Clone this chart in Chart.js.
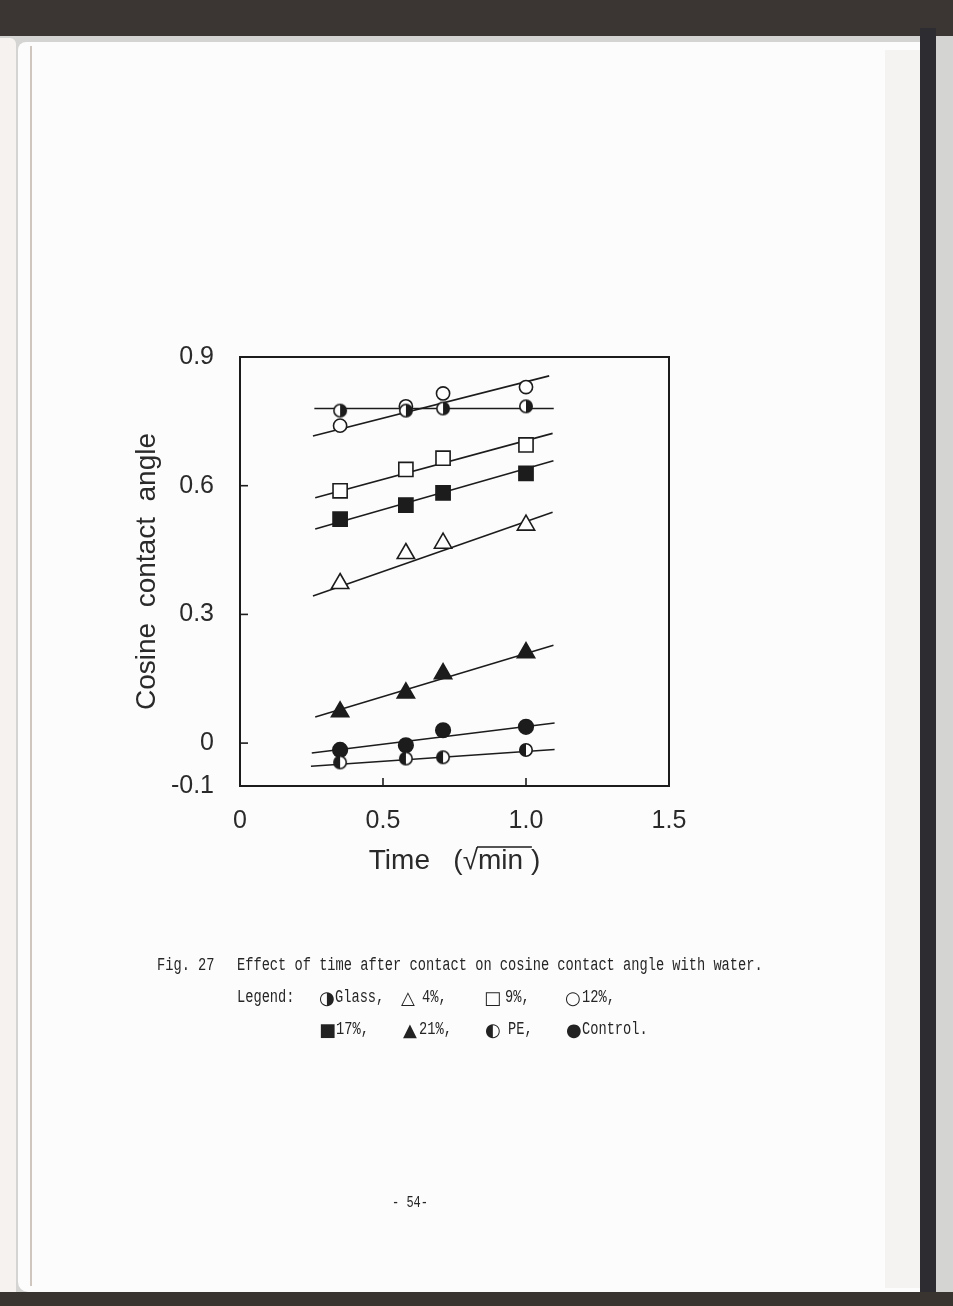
<!DOCTYPE html>
<html>
<head>
<meta charset="utf-8">
<script src="https://cdn.jsdelivr.net/npm/chart.js@4.4.0/dist/chart.umd.min.js"></script>
<style>
  html, body { margin: 0; padding: 0; }
  body { width: 953px; height: 1306px; position: relative; overflow: hidden; background: #d4d4d2; }
  .b { position: absolute; }
  #top { left: 0; top: 0; width: 953px; height: 36px; background: #3b3633; }
  #sliver { left: 0; top: 38px; width: 16px; height: 1254px; background: #f6f2ef; border-radius: 0 6px 0 0; }
  #page { left: 18px; top: 42px; width: 904px; height: 1250px; background: #fdfcfc; border-radius: 8px 0 0 10px; }
  #gutter { left: 30px; top: 46px; width: 2px; height: 1240px; background: #cfc6bf; }
  #edge { left: 885px; top: 50px; width: 36px; height: 1238px; background: #f5f3f1; }
  #cover { left: 920px; top: 28px; width: 16px; height: 1266px; background: #2d2c31; }
  #bottom { left: 0; top: 1292px; width: 953px; height: 14px; background: #3a3431; }
  #c { position: absolute; left: 0; top: 0; }
  .cap { position: absolute; font-family: "Liberation Mono", monospace; font-size: 13.7px; color: #262626;
         white-space: pre; line-height: 16px; transform: scaleY(1.35); transform-origin: 0 50%; }
  .sym { position: absolute; font-family: "DejaVu Sans", sans-serif; font-size: 18px; color: #222; line-height: 16px; }
</style>
</head>
<body>
<div class="b" id="top"></div>
<div class="b" id="sliver"></div>
<div class="b" id="page"></div>
<div class="b" id="gutter"></div>
<div class="b" id="edge"></div>
<div class="b" id="cover"></div>
<div class="b" id="bottom"></div>

<canvas id="c" width="953" height="1306"></canvas>

<div class="cap" style="left:157px;top:958px">Fig. 27</div>
<div class="cap" style="left:237px;top:958px">Effect of time after contact on cosine contact angle with water.</div>

<div class="cap" style="left:237px;top:990px">Legend:</div>
<div class="sym" style="left:319px;top:990px">◑</div><div class="cap" style="left:335px;top:990px">Glass,</div>
<div class="sym" style="left:401px;top:990px">△</div><div class="cap" style="left:422px;top:990px">4%,</div>
<div class="sym" style="left:484px;top:990px">□</div><div class="cap" style="left:505px;top:990px">9%,</div>
<div class="sym" style="left:565px;top:990px">○</div><div class="cap" style="left:582px;top:990px">12%,</div>

<div class="sym" style="left:319px;top:1022px">■</div><div class="cap" style="left:336px;top:1022px">17%,</div>
<div class="sym" style="left:403px;top:1022px">▲</div><div class="cap" style="left:419px;top:1022px">21%,</div>
<div class="sym" style="left:485px;top:1022px">◐</div><div class="cap" style="left:508px;top:1022px">PE,</div>
<div class="sym" style="left:566px;top:1022px">●</div><div class="cap" style="left:582px;top:1022px">Control.</div>

<div class="cap" style="left:392px;top:1195px;font-size:12px">- 54-</div>

<script>
// time in sqrt(min)
const times = [0.35, 0.58, 0.71, 1.0];

// cosine contact angle per sample
const glass   = [0.775, 0.775, 0.78, 0.785];
const pct4    = [0.372, 0.442, 0.466, 0.508];
const pct9    = [0.588, 0.638, 0.664, 0.695];
const pct12   = [0.74, 0.785, 0.815, 0.83];
const pct17   = [0.522, 0.555, 0.583, 0.629];
const pct21   = [0.073, 0.117, 0.162, 0.211];
const pe      = [-0.045, -0.036, -0.033, -0.016];
const control = [-0.016, -0.005, 0.03, 0.038];

// fitted lines as drawn in the figure (Glass, 4, 9, 12, 17, 21, PE, Control)
const fitX0 = [0.26, 0.255, 0.263, 0.255, 0.263, 0.263, 0.248, 0.251];
const fitY0 = [0.78, 0.343, 0.572, 0.716, 0.499, 0.061, -0.054, -0.023];
const fitX1 = [1.097, 1.093, 1.093, 1.081, 1.096, 1.096, 1.10, 1.10];
const fitY1 = [0.78, 0.538, 0.722, 0.856, 0.658, 0.228, -0.015, 0.047];

const xTicks = [0, 0.5, 1.0, 1.5];
const yTicks = [-0.1, 0, 0.3, 0.6, 0.9];

const INK = '#1c1c1c';

function halfDot(side) {
  const c = document.createElement('canvas');
  c.width = 16; c.height = 16;
  const g = c.getContext('2d');
  g.beginPath(); g.arc(8, 8, 6.2, 0, Math.PI * 2); g.fillStyle = '#fff'; g.fill();
  g.beginPath();
  if (side === 'right') g.arc(8, 8, 6.2, -Math.PI / 2, Math.PI / 2);
  else g.arc(8, 8, 6.2, Math.PI / 2, Math.PI * 1.5);
  g.closePath(); g.fillStyle = INK; g.fill();
  g.beginPath(); g.arc(8, 8, 6.2, 0, Math.PI * 2);
  g.lineWidth = 1.6; g.strokeStyle = INK; g.stroke();
  return c;
}

const series = [
  { name: 'Glass',   vals: glass,   style: halfDot('right'), fill: '#fff', r: 8 },
  { name: '4%',      vals: pct4,    style: 'triangle', fill: '#fff', r: 10 },
  { name: '9%',      vals: pct9,    style: 'rect',     fill: '#fff', r: 10 },
  { name: '12%',     vals: pct12,   style: 'circle',   fill: '#fff', r: 6.6 },
  { name: '17%',     vals: pct17,   style: 'rect',     fill: INK,    r: 10 },
  { name: '21%',     vals: pct21,   style: 'triangle', fill: INK,    r: 10 },
  { name: 'PE',      vals: pe,      style: halfDot('left'), fill: '#fff', r: 8 },
  { name: 'Control', vals: control, style: 'circle',   fill: INK,    r: 7.3 }
];

const datasets = [];
series.forEach((s, i) => {
  datasets.push({
    label: s.name + ' fit',
    data: [{ x: fitX0[i], y: fitY0[i] }, { x: fitX1[i], y: fitY1[i] }],
    showLine: true,
    borderColor: INK,
    borderWidth: 1.6,
    pointRadius: 0,
    order: 1
  });
  datasets.push({
    label: s.name,
    data: times.map((t, k) => ({ x: t, y: s.vals[k] })),
    showLine: false,
    pointStyle: s.style,
    pointRadius: s.r,
    pointBackgroundColor: s.fill,
    pointBorderColor: INK,
    pointBorderWidth: 1.6,
    order: 0
  });
});

const fmt = v => (v === 0 ? '0' : v.toFixed(1));
const tickFont = { family: '"Liberation Sans", sans-serif', size: 25 };
const titleFont = { family: '"Liberation Sans", sans-serif', size: 28 };
const xTitle = 'Time   (\u221Amin )';

const frame = {
  id: 'frame',
  afterDraw(chart) {
    const { ctx, chartArea: a } = chart;
    const xs = chart.scales.x, ys = chart.scales.y;
    ctx.save();
    ctx.strokeStyle = INK;
    ctx.lineWidth = 2;
    ctx.strokeRect(a.left, a.top, a.right - a.left, a.bottom - a.top);
    ctx.lineWidth = 1.6;
    xs.ticks.forEach(t => {
      const px = xs.getPixelForValue(t.value);
      if (px <= a.left + 2 || px >= a.right - 2) return;
      ctx.beginPath(); ctx.moveTo(px, a.bottom); ctx.lineTo(px, a.bottom - 8); ctx.stroke();
    });
    ys.ticks.forEach(t => {
      const py = ys.getPixelForValue(t.value);
      if (py <= a.top + 2 || py >= a.bottom - 2) return;
      ctx.beginPath(); ctx.moveTo(a.left, py); ctx.lineTo(a.left + 8, py); ctx.stroke();
    });
    // vinculum over "min" in the x title
    ctx.font = titleFont.size + 'px ' + titleFont.family;
    const total = ctx.measureText(xTitle).width;
    const cx = (a.left + a.right) / 2;
    const start = cx - total / 2 + ctx.measureText('Time   (\u221A').width - 1;
    const end = start + ctx.measureText('min ').width + 2;
    const ty = a.bottom + 61;
    ctx.lineWidth = 1.6;
    ctx.beginPath(); ctx.moveTo(start, ty); ctx.lineTo(end, ty); ctx.stroke();
    ctx.restore();
  }
};

new Chart(document.getElementById('c'), {
  type: 'scatter',
  data: { datasets },
  options: {
    responsive: false,
    animation: false,
    devicePixelRatio: 1,
    layout: { padding: { left: 0, top: 357, right: 284, bottom: 420 } },
    plugins: { legend: { display: false }, tooltip: { enabled: false } },
    scales: {
      x: {
        type: 'linear', min: 0, max: 1.5,
        afterBuildTicks: s => { s.ticks = xTicks.map(v => ({ value: v })); },
        afterFit: s => { s.height = 100; },
        grid: { display: false, drawTicks: false },
        border: { display: false },
        ticks: { font: tickFont, color: '#2a2a2a', padding: 20, maxRotation: 0, autoSkip: false, callback: fmt },
        title: { display: true, text: xTitle, font: titleFont, color: '#2a2a2a', padding: { top: 0, bottom: 8 } }
      },
      y: {
        type: 'linear', min: -0.1, max: 0.9,
        afterBuildTicks: s => { s.ticks = yTicks.map(v => ({ value: v })); },
        afterFit: s => { s.width = 240; },
        grid: { display: false, drawTicks: false },
        border: { display: false },
        ticks: { font: tickFont, color: '#2a2a2a', padding: 26, autoSkip: false, callback: fmt },
        title: { display: true, text: 'Cosine  contact  angle', font: titleFont, color: '#2a2a2a', padding: { top: 130, bottom: 0 } }
      }
    }
  },
  plugins: [frame]
});
</script>
</body>
</html>
